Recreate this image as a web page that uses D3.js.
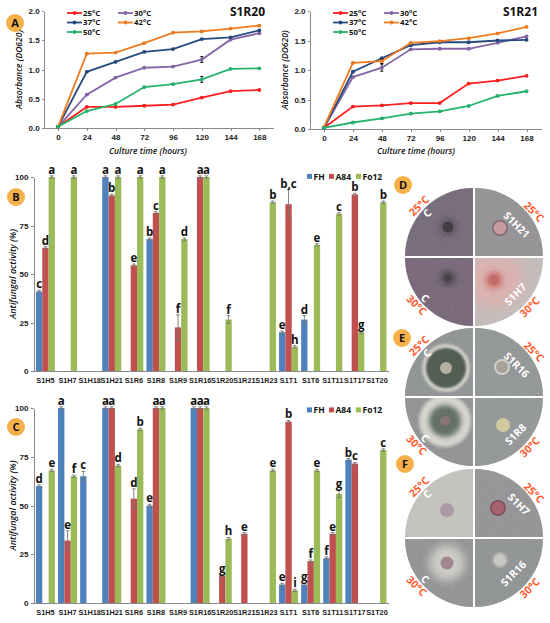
<!DOCTYPE html>
<html>
<head>
<meta charset="utf-8">
<title>growth-antifungal</title>
<script src="https://cdn.jsdelivr.net/npm/d3@7"></script>
<style>
  body { margin: 0; background: #fff; }
  svg { display: block; font-family: "Open Sans", "DejaVu Sans", sans-serif; }
  .axis path, .axis line { fill: none; stroke: #8a8a8a; shape-rendering: crispEdges; }
  .axis text { font-size: 8px; font-weight: bold; fill: #1a1a1a; }
  .bar-x text { font-size: 7.3px; }
  .title { font-size: 12px; font-weight: bold; fill: #111; }
  .atitle { font-size: 8.5px; font-style: italic; font-weight: 600; fill: #111; }
  .leg { font-size: 7.8px; font-weight: bold; fill: #111; }
  .let { font-size: 11.5px; font-weight: bold; fill: #111; text-anchor: middle; }
  .badge text { font-size: 11px; font-weight: bold; fill: #111; text-anchor: middle; }
  .plabel { font-size: 10.5px; font-weight: bold; text-anchor: middle; }
</style>
</head>
<body>
<svg width="550" height="623"></svg>
<script>
// ---- growth curves (panel A)
var hours = [0, 24, 48, 72, 96, 120, 144, 168];
var temps = ["25°C", "30°C", "37°C", "42°C", "50°C"];
var tempColors = ["#ff1f1f", "#8466a8", "#264a7e", "#f07c1f", "#25b36c"];

var s1r20 = [
  [0.02, 0.36, 0.36, 0.38, 0.40, 0.52, 0.63, 0.65],
  [0.02, 0.57, 0.86, 1.03, 1.05, 1.17, 1.51, 1.62],
  [0.02, 0.96, 1.13, 1.30, 1.35, 1.52, 1.55, 1.67],
  [0.02, 1.27, 1.29, 1.45, 1.63, 1.65, 1.70, 1.75],
  [0.02, 0.29, 0.41, 0.70, 0.75, 0.83, 1.01, 1.02]
];
var s1r21 = [
  [0.02, 0.38, 0.40, 0.44, 0.44, 0.77, 0.82, 0.90],
  [0.02, 0.88, 1.04, 1.35, 1.36, 1.36, 1.46, 1.57],
  [0.02, 0.97, 1.20, 1.42, 1.47, 1.47, 1.50, 1.51],
  [0.03, 1.12, 1.15, 1.46, 1.49, 1.54, 1.62, 1.73],
  [0.02, 0.11, 0.18, 0.26, 0.30, 0.39, 0.56, 0.64]
];
// [series index, hour, error] ; the rest are ~0.01
var s1r20Err = [[1, 120, 0.05], [4, 120, 0.05]];
var s1r21Err = [[1, 48, 0.06], [3, 48, 0.04]];

// ---- antifungal activity (panels B and C)
var strains = ["S1H5", "S1H7", "S1H18", "S1H21", "S1R6", "S1R8", "S1R9", "S1R16",
               "S1R20", "S1R21", "S1R23", "S1T1", "S1T6", "S1T11", "S1T17", "S1T20"];
var fungi = ["FH", "A84", "Fo12"];
var fungiColors = ["#4f81bd", "#c0504d", "#9bbb59"];

var bFH   = [41, 0, 0, 100, 0, 68, 0, 0, 0, 0, 0, 20, 26.5, 0, 0, 0];
var bA84  = [63.5, 0, 0, 90.5, 54.5, 81.5, 22.5, 100, 0, 0, 0, 86, 0, 0, 91, 0];
var bFo12 = [100, 100, 0, 100, 100, 100, 68, 100, 26.5, 0, 87, 12.5, 65, 81, 20, 87];
var bFHLet   = ["c", "", "", "a", "", "b", "", "", "", "", "", "e", "d", "", "", ""];
var bA84Let  = ["d", "", "", "b", "e", "c", "f", "a", "", "", "", "b,c", "", "", "b", ""];
var bFo12Let = ["a", "a", "", "a", "a", "a", "d", "a", "f", "", "b", "h", "e", "c", "g", "b"];
var bErr = [["S1R9", "A84", 6.5], ["S1T1", "A84", 7.5], ["S1R20", "Fo12", 2], ["S1T6", "FH", 2]];

var cFH   = [60, 100, 65, 100, 0, 50, 0, 100, 0, 0, 0, 9.5, 9.5, 23, 73.5, 0];
var cA84  = [0, 32, 0, 100, 53.5, 100, 0, 100, 14, 35.5, 0, 93, 21.5, 35.5, 71.5, 0];
var cFo12 = [68, 65, 0, 70.5, 89, 100, 0, 100, 33, 0, 68, 6.5, 68, 56, 0, 78.5];
var cFHLet   = ["d", "a", "c", "a", "", "e", "", "a", "", "", "", "e", "g", "f", "b", ""];
var cA84Let  = ["", "e", "", "a", "d", "a", "", "a", "g", "e", "", "b", "f", "e", "c", ""];
var cFo12Let = ["e", "f", "", "d", "b", "a", "", "a", "h", "", "e", "i", "e", "g", "", "c"];
var cErr = [["S1H7", "A84", 5], ["S1H18", "FH", 2.5], ["S1R6", "A84", 5], ["S1T11", "Fo12", 2]];

// ---- plate photos (D, E, F)
var plateLetters = ["D", "E", "F"];
var plateNames = [["C", "S1H21", "C", "S1H7"], ["C", "S1R16", "C", "S1R8"], ["C", "S1H7", "C", "S1R16"]];
var plateTemps = ["25°C", "25°C", "30°C", "30°C"];

var svg = d3.select("svg");
var defs = svg.append("defs");

function badge(x, y, txt) {
  var b = svg.append("g").attr("class", "badge").attr("transform", "translate(" + x + "," + y + ")");
  b.append("circle").attr("r", 9).attr("fill", "#f6b04a");
  b.append("text").attr("y", 4).text(txt);
}

function growthChart(vals, errs, title, xr, yr, legX, titleX, xTitleX) {
  var x = d3.scalePoint().domain(hours).range(xr).padding(0.5);
  var y = d3.scaleLinear().domain([0, 2]).range(yr);
  var g = svg.append("g");

  g.append("g").attr("class", "axis")
    .attr("transform", "translate(0," + yr[0] + ")")
    .call(d3.axisBottom(x).tickSize(3).tickSizeOuter(0).tickPadding(3));
  g.append("g").attr("class", "axis")
    .attr("transform", "translate(" + xr[0] + ",0)")
    .call(d3.axisLeft(y).tickValues([0, 0.5, 1, 1.5, 2]).tickFormat(d3.format(".1f"))
      .tickSize(2).tickSizeOuter(0).tickPadding(2));

  var line = d3.line()
    .x(function(d, i) { return x(hours[i]); })
    .y(function(d) { return y(d); });

  vals.forEach(function(s, k) {
    g.append("path").datum(s)
      .attr("fill", "none").attr("stroke", tempColors[k]).attr("stroke-width", 1.8)
      .attr("d", line);
    // error bars
    s.forEach(function(v, i) {
      var e = 0.01;
      errs.forEach(function(r) { if (r[0] === k && r[1] === hours[i]) e = r[2]; });
      var cx = x(hours[i]);
      g.append("path").attr("stroke", "#111").attr("stroke-width", 1).attr("fill", "none")
        .attr("d", "M" + (cx - 1.5) + "," + y(v + e) + "h3M" + cx + "," + y(v + e) + "V" + y(v - e) +
                   "M" + (cx - 1.5) + "," + y(v - e) + "h3");
    });
    g.selectAll(null).data(s).enter().append("circle")
      .attr("cx", function(d, i) { return x(hours[i]); })
      .attr("cy", function(d) { return y(d); })
      .attr("r", 1.9).attr("fill", tempColors[k]);
  });

  // legend
  temps.forEach(function(t, k) {
    var lx = legX + (k % 2) * 51, ly = 13 + Math.floor(k / 2) * 9.5;
    g.append("line").attr("x1", lx).attr("x2", lx + 15).attr("y1", ly).attr("y2", ly)
      .attr("stroke", tempColors[k]).attr("stroke-width", 1.8);
    g.append("circle").attr("cx", lx + 7.5).attr("cy", ly).attr("r", 1.9).attr("fill", tempColors[k]);
    g.append("text").attr("class", "leg").attr("x", lx + 16).attr("y", ly + 2.8).text(t);
  });

  g.append("text").attr("class", "title").attr("x", titleX).attr("y", 16)
    .attr("text-anchor", "end").text(title);
  g.append("text").attr("class", "atitle").attr("x", xTitleX).attr("y", 154)
    .attr("text-anchor", "middle").text("Culture time (hours)");
  g.append("text").attr("class", "atitle")
    .attr("transform", "translate(" + (xr[0] - 22) + "," + ((yr[0] + yr[1]) / 2) + ") rotate(-90)")
    .attr("text-anchor", "middle").text("Absorbance (DO620)");
}

growthChart(s1r20, s1r20Err, "S1R20", [43.6, 273.7], [128, 11], 67, 265, 148);
growthChart(s1r21, s1r21Err, "S1R21", [309.5, 541], [129, 11], 333, 538, 416);
badge(15, 23, "A");

function activityChart(vals, lets, errs, y0, y100, legY) {
  var y = d3.scaleLinear().domain([0, 100]).range([y0, y100]);
  var x0 = d3.scaleBand().domain(strains).range([34.4, 388]).paddingInner(0.14).paddingOuter(0.07);
  var x1 = d3.scaleBand().domain(fungi).range([0, x0.bandwidth()]);
  var g = svg.append("g");

  var rows = [];
  strains.forEach(function(s, i) {
    fungi.forEach(function(f, j) {
      var e = 0.6;
      errs.forEach(function(r) { if (r[0] === s && r[1] === f) e = r[2]; });
      rows.push({ s: s, f: f, j: j, v: vals[j][i], e: e, t: lets[j][i] });
    });
  });
  rows = rows.filter(function(d) { return d.v > 0; });

  g.selectAll(".bar").data(rows).enter().append("rect")
    .attr("x", function(d) { return x0(d.s) + x1(d.f); })
    .attr("width", x1.bandwidth())
    .attr("y", function(d) { return y(d.v); })
    .attr("height", function(d) { return y0 - y(d.v); })
    .attr("fill", function(d) { return fungiColors[d.j]; });

  g.selectAll(".err").data(rows).enter().append("path")
    .attr("stroke", "#777").attr("stroke-width", 0.9).attr("fill", "none")
    .attr("d", function(d) {
      var cx = x0(d.s) + x1(d.f) + x1.bandwidth() / 2;
      var lo = Math.max(0, d.v - d.e);
      return "M" + (cx - 1.8) + "," + y(d.v + d.e) + "h3.6M" + cx + "," + y(d.v + d.e) + "V" + y(lo) +
             "M" + (cx - 1.8) + "," + y(lo) + "h3.6";
    });

  g.selectAll(".let").data(rows.filter(function(d) { return d.t; })).enter().append("text")
    .attr("class", "let")
    .attr("x", function(d) { return x0(d.s) + x1(d.f) + x1.bandwidth() / 2; })
    .attr("y", function(d) { return y(d.v + d.e) - 2; })
    .text(function(d) { return d.t; });

  g.append("g").attr("class", "axis").attr("transform", "translate(34.4,0)")
    .call(d3.axisLeft(y).tickValues([0, 25, 50, 75, 100]).tickSize(3).tickSizeOuter(0));
  g.append("g").attr("class", "axis bar-x").attr("transform", "translate(0," + y0 + ")")
    .call(d3.axisBottom(x0).tickSize(0).tickPadding(7));

  g.append("text").attr("class", "atitle")
    .attr("transform", "translate(16," + ((y0 + y100) / 2) + ") rotate(-90)")
    .attr("text-anchor", "middle").style("font-size", "9px").text("Antifungal activity (%)");

  var legXs = [307, 329, 356];
  fungi.forEach(function(f, j) {
    g.append("rect").attr("x", legXs[j]).attr("y", legY - 2.6).attr("width", 5).attr("height", 5)
      .attr("fill", fungiColors[j]);
    g.append("text").attr("class", "leg").attr("x", legXs[j] + 6.5).attr("y", legY + 3)
      .style("font-size", "8.5px").text(f);
  });
}

activityChart([bFH, bA84, bFo12], [bFHLet, bA84Let, bFo12Let], bErr, 371, 177, 176.5);
activityChart([cFH, cA84, cFo12], [cFHLet, cA84Let, cFo12Let], cErr, 603, 408, 410);
badge(16, 197, "B");
badge(16, 427, "C");

// ---- plate photos, drawn as shaded quarter discs
var plateCx = 474, plateCy = [257, 397, 538], plateR = 68;
var quadArcs = [[-Math.PI / 2, 0], [0, Math.PI / 2], [Math.PI, 1.5 * Math.PI], [Math.PI / 2, Math.PI]];
var quadShift = [[-1, -1], [1, -1], [-1, 1], [1, 1]];
var labelAng = [-137, -37, 140, 42];
var labelRot = [-45, 45, 45, -45];
var quadLook = [
  [ { bg: "#6b5d6d", spots: [[-26, -30, 10, "#54485a", 2], [-26, -30, 5.5, "#28242a", 0.6]] },
    { bg: "#908c90", spots: [[26, -29, 8, "#74555b", 0.5], [26, -29, 6.5, "#c9979b", 0.5]] },
    { bg: "#6c596e", spots: [[-26, 21, 9, "#4d404f", 2], [-26, 21, 4.5, "#2c262d", 1]] },
    { bg: "#c9bdbd", spots: [[20, 23, 28, "#e2b0ae", 6], [20, 23, 10, "#d9827f", 2], [20, 23, 6, "#c85a58", 1]] } ],
  [ { bg: "#8a8d8d", spots: [[-28, -29, 24, "#d5d6cc", 1], [-28, -29, 20, "#3b4a3d", 1], [-28, -29, 6, "#b5ad9e", 0.5]] },
    { bg: "#8e9191", spots: [[28, -30, 8, "#d6d4cb", 0.5], [28, -30, 6, "#a39e92", 0.5]] },
    { bg: "#8b8e8e", spots: [[-29, 24, 26, "#dcdbd2", 1.5], [-29, 24, 16, "#506152", 2.5], [-29, 24, 5, "#7e6466", 0.5]] },
    { bg: "#8f9293", spots: [[29, 28, 7, "#d9cd98", 0.5]] } ],
  [ { bg: "#c7c5be", spots: [[-27, -28, 7, "#a8919f", 0.5]] },
    { bg: "#8f8d90", spots: [[24, -30, 8, "#6d3a47", 0.5], [24, -30, 6.5, "#a24e5e", 0.5]] },
    { bg: "#8b8d8f", spots: [[-27, 25, 18, "#d2d0c9", 4], [-27, 25, 6.5, "#9b7a86", 0.5]] },
    { bg: "#8a8d8f", spots: [[26, 22, 7, "#cfccc7", 0.8]] } ]
];

var grain = defs.append("filter").attr("id", "grain")
  .attr("x", 0).attr("y", 0).attr("width", "100%").attr("height", "100%");
grain.append("feTurbulence").attr("type", "fractalNoise").attr("baseFrequency", 0.9)
  .attr("numOctaves", 2).attr("seed", 4);
grain.append("feColorMatrix").attr("type", "matrix")
  .attr("values", "0.33 0.33 0.33 0 0  0.33 0.33 0.33 0 0  0.33 0.33 0.33 0 0  0 0 0 0 0.55");

var arc = d3.arc().innerRadius(0).outerRadius(plateR);
var blurIds = {};
function blurId(sd) {
  var id = "blur" + String(sd).replace(".", "_");
  if (!blurIds[id]) {
    defs.append("filter").attr("id", id).attr("x", "-50%").attr("y", "-50%")
      .attr("width", "200%").attr("height", "200%")
      .append("feGaussianBlur").attr("stdDeviation", sd);
    blurIds[id] = true;
  }
  return id;
}

plateLetters.forEach(function(p, pi) {
  var cy = plateCy[pi];
  var pg = svg.append("g").attr("transform", "translate(" + plateCx + "," + cy + ")");
  quadArcs.forEach(function(a, qi) {
    var cid = "clip" + p + qi;
    var dpath = arc({ startAngle: a[0], endAngle: a[1] });
    defs.append("clipPath").attr("id", cid).append("path")
      .attr("transform", "translate(" + quadShift[qi][0] + "," + quadShift[qi][1] + ")")
      .attr("d", dpath);
    var look = quadLook[pi][qi];
    var qg = pg.append("g").attr("clip-path", "url(#" + cid + ")");
    qg.append("rect").attr("x", -plateR - 2).attr("y", -plateR - 2)
      .attr("width", 2 * plateR + 4).attr("height", 2 * plateR + 4).attr("fill", look.bg);
    look.spots.forEach(function(s) {
      qg.append("circle").attr("cx", s[0]).attr("cy", s[1]).attr("r", s[2]).attr("fill", s[3])
        .attr("filter", "url(#" + blurId(s[4]) + ")");
    });
    qg.append("rect").attr("x", -plateR - 2).attr("y", -plateR - 2)
      .attr("width", 2 * plateR + 4).attr("height", 2 * plateR + 4)
      .attr("filter", "url(#grain)").attr("opacity", 0.35);
  });

  // labels around the rim
  quadArcs.forEach(function(a, qi) {
    var ang = labelAng[qi] * Math.PI / 180;
    var nm = plateNames[pi][qi];
    var rn = 64 - (nm.length - 1) * 2.7;
    pg.append("text").attr("class", "plabel").attr("fill", "#fff")
      .attr("transform", "translate(" + (rn * Math.cos(ang)) + "," + (rn * Math.sin(ang)) + ") rotate(" + labelRot[qi] + ")")
      .attr("dy", "0.35em").text(nm);
    pg.append("text").attr("class", "plabel").attr("fill", "#ff5a2c")
      .attr("transform", "translate(" + (75 * Math.cos(ang)) + "," + (75 * Math.sin(ang)) + ") rotate(" + labelRot[qi] + ")")
      .attr("dy", "0.35em").text(plateTemps[qi]);
  });
});
badge(403, 185, "D");
badge(402, 338, "E");
badge(405, 464, "F");
</script>
</body>
</html>
